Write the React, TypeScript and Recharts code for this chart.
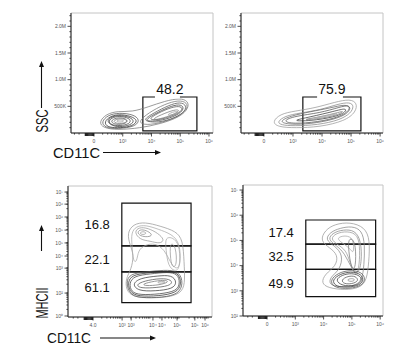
import { ComposedChart, Line, XAxis, YAxis, ReferenceArea, ReferenceLine } from 'recharts'

type Pt = [number, number]
type Gate = { x1: number; x2: number; y1: number; y2: number; label: string; gap?: [number, number] }

// ---- axis ticks (CD11C in decade units on a biex scale, MHCII in log10 units) ----
const cdTicks = [0, 1, 2, 3, 4]
const cdLabels = ['0', '10³', '10⁴', '10⁵', '10⁶']
// the bottom-left export has doubled-up labels
const cdTicksBL = [0, 1.0, 1.31, 2.06, 2.37, 2.89, 3.5, 3.85]
const cdLabelsBL = ['4.0', '10³', '10³', '10⁴', '10⁴', '10⁵', '10⁵', '10⁶']
const sscTicks = [500, 1000, 1500, 2000]
const sscLabels = ['500K', '1.0M', '1.5M', '2.0M']
const sscMinor = [100, 200, 300, 400, 600, 700, 800, 900, 1100, 1200, 1300, 1400, 1600, 1700, 1800, 1900, 2100, 2200]
const mhcTicks = [2, 3, 4, 5, 6, 7]
const mhcLabels = ['10²', '10³', '10⁴', '10⁵', '10⁶', '10⁷']
const mhcTicksBL = [2.04, 2.95, 3.94, 4.42, 4.94, 5.45, 5.97, 6.48, 6.96]
const mhcLabelsBL = ['10⁰', '10²', '10³', '10⁴', '10⁵', '10⁵', '10⁶', '10⁶', '10⁷']

function logMinor(from: number, to: number, max: number) {
  const out: number[] = []
  for (let d = from; d < to; d++)
    for (let k = 2; k <= 9; k++) {
      const v = d + Math.log10(k)
      if (v < max) out.push(Math.round(v * 1000) / 1000)
    }
  return out
}
const zeroBlock = [-0.3, -0.26, -0.22, -0.18, -0.14, -0.1, -0.06, -0.02]
const cdMinor = [-0.68, -0.52, ...zeroBlock, ...logMinor(0, 4, 4.05)]
const mhcMinor = logMinor(2, 7, 7.15)

// ---- contours: x = CD11C decades, y = SSC (K) or log10 MHCII ----
const tlContours: Pt[][] = [
  [[0.17, 206], [0.42, 356], [0.83, 412], [1.32, 394], [1.88, 488], [2.47, 600], [3.0, 656], [3.27, 600], [3.3, 469], [3.0, 300], [2.3, 169], [1.6, 94], [0.83, 56], [0.31, 94]],
  [[0.25, 206], [0.48, 338], [0.88, 380], [1.36, 350], [1.6, 250], [1.45, 120], [0.82, 75], [0.38, 100]],
  [[0.35, 206], [0.56, 319], [0.94, 356], [1.39, 300], [1.53, 206], [1.25, 112], [0.8, 94], [0.45, 112]],
  [[0.42, 215], [0.6, 310], [0.95, 338], [1.34, 281], [1.4, 188], [1.1, 120], [0.7, 112]],
  [[0.49, 225], [0.66, 300], [0.97, 319], [1.29, 262], [1.25, 169], [0.9, 131], [0.59, 150]],
  [[0.56, 225], [0.78, 290], [1.08, 281], [1.2, 215], [1.0, 160], [0.7, 160]],
  [[0.63, 225], [0.9, 281], [1.18, 244], [1.11, 188], [0.8, 169]],
  [[0.73, 225], [0.94, 253], [1.08, 225], [0.9, 197]],
  [[1.55, 220], [1.9, 380], [2.45, 540], [2.95, 620], [3.25, 570], [3.25, 440], [2.9, 290], [2.2, 170], [1.7, 150]],
  [[1.67, 225], [1.95, 337], [2.47, 488], [2.92, 581], [3.2, 544], [3.2, 412], [2.82, 281], [2.23, 188]],
  [[1.75, 235], [2.1, 355], [2.6, 490], [2.98, 545], [3.15, 480], [3.0, 360], [2.5, 250], [2.0, 215]],
  [[1.84, 244], [2.23, 375], [2.71, 488], [3.03, 506], [3.1, 431], [2.82, 337], [2.3, 244]],
  [[2.02, 262], [2.47, 375], [2.89, 450], [3.0, 412], [2.64, 319], [2.16, 244]],
  [[2.5, 337], [2.82, 412], [2.96, 394], [2.71, 328]],
]
const tlShades = ['#7a7a7a', '#555', '#333', '#3a3a3a', '#444', '#555', '#777', '#999', '#777', '#555', '#444', '#555', '#777', '#999']

const trContours: Pt[][] = [
  [[0.28, 206], [0.55, 356], [1.07, 412], [1.76, 469], [2.45, 581], [2.97, 638], [3.21, 563], [3.17, 394], [2.79, 225], [1.93, 113], [1.07, 94], [0.48, 113]],
  [[0.45, 206], [0.72, 319], [1.24, 375], [1.93, 431], [2.55, 544], [2.97, 581], [3.1, 506], [3.0, 375], [2.62, 244], [1.86, 150], [1.0, 131], [0.59, 150]],
  [[0.52, 215], [0.9, 319], [1.6, 400], [2.3, 470], [2.8, 540], [3.03, 480], [2.82, 330], [2.2, 225], [1.4, 160], [0.8, 165]],
  [[0.62, 225], [1.07, 319], [1.93, 375], [2.62, 488], [2.93, 525], [2.97, 431], [2.62, 300], [1.86, 206], [1.0, 169]],
  [[0.9, 225], [1.59, 300], [2.45, 412], [2.83, 469], [2.83, 394], [2.45, 300], [1.59, 225]],
  [[1.24, 244], [1.93, 300], [2.62, 394], [2.76, 412], [2.55, 337], [1.86, 262]],
  [[1.6, 270], [2.2, 330], [2.6, 380], [2.4, 340], [1.9, 285]],
]
const trShades = ['#999', '#888', '#666', '#555', '#3a3a3a', '#777', '#aaa']

const blContours: Pt[][] = [
  [[1.17, 5.33], [1.38, 5.69], [1.79, 5.77], [2.3, 5.61], [2.85, 5.41], [3.09, 5.06], [3.13, 4.18], [3.16, 3.47], [3.09, 2.99], [2.65, 2.79], [1.96, 2.75], [1.38, 2.79], [1.13, 3.07], [1.13, 3.55], [1.31, 3.87], [1.41, 4.46], [1.27, 4.86]],
  [[1.31, 5.33], [1.48, 5.61], [1.82, 5.65], [2.23, 5.49], [2.71, 5.29], [2.99, 4.94], [3.02, 4.06], [2.85, 3.87], [2.65, 4.18], [2.47, 4.66], [2.13, 4.94], [1.79, 4.86], [1.55, 4.66], [1.51, 4.18], [1.38, 4.18], [1.34, 4.86]],
  [[1.41, 5.37], [1.58, 5.57], [1.89, 5.53], [2.23, 5.33], [2.47, 5.06], [2.3, 4.9], [1.96, 5.02], [1.62, 5.06]],
  [[1.51, 5.37], [1.65, 5.49], [1.89, 5.41], [2.06, 5.25], [1.89, 5.17], [1.62, 5.21]],
  [[1.58, 5.33], [1.72, 5.41], [1.86, 5.33], [1.72, 5.25]],
  [[2.47, 5.21], [2.82, 5.13], [2.99, 4.74], [2.99, 3.94], [2.82, 3.79], [2.58, 4.02], [2.51, 4.66]],
  [[2.65, 4.98], [2.85, 4.82], [2.89, 4.02], [2.71, 3.94], [2.65, 4.46]],
  [[1.13, 3.39], [1.27, 3.71], [1.79, 3.79], [2.47, 3.87], [2.92, 3.83], [3.09, 3.47], [3.02, 2.99], [2.58, 2.79], [1.79, 2.75], [1.27, 2.83]],
  [[1.18, 3.37], [1.34, 3.67], [1.87, 3.75], [2.52, 3.83], [2.92, 3.77], [3.04, 3.41], [2.95, 3.01], [2.44, 2.85], [1.7, 2.81], [1.29, 2.91]],
  [[1.24, 3.35], [1.41, 3.63], [1.96, 3.71], [2.58, 3.79], [2.92, 3.71], [2.99, 3.35], [2.89, 3.03], [2.3, 2.91], [1.62, 2.87], [1.31, 2.99]],
  [[1.34, 3.31], [1.62, 3.55], [2.23, 3.63], [2.71, 3.67], [2.89, 3.39], [2.75, 3.11], [2.13, 3.03], [1.55, 3.03]],
  [[1.48, 3.31], [1.89, 3.47], [2.47, 3.55], [2.75, 3.43], [2.65, 3.23], [2.03, 3.15], [1.58, 3.15]],
  [[1.68, 3.31], [2.13, 3.43], [2.51, 3.47], [2.61, 3.39], [2.3, 3.27], [1.79, 3.23]],
  [[2.17, 3.39], [2.44, 3.43], [2.51, 3.37], [2.3, 3.33]],
]
const blShades = ['#999', '#aaa', '#999', '#888', '#999', '#aaa', '#999', '#555', '#333', '#444', '#3a3a3a', '#555', '#777', '#999']

const brContours: Pt[][] = [
  [[1.87, 4.98], [2.05, 5.41], [2.4, 5.65], [2.93, 5.73], [3.46, 5.53], [3.64, 5.02], [3.6, 4.14], [3.53, 3.43], [3.29, 3.11], [2.76, 3.03], [2.16, 3.11], [1.91, 3.31], [2.05, 3.67], [2.44, 3.98], [2.51, 4.42], [2.23, 4.7]],
  [[2.05, 5.02], [2.23, 5.33], [2.58, 5.49], [3.0, 5.57], [3.36, 5.41], [3.46, 4.82], [3.43, 4.02], [3.36, 3.39], [3.07, 3.19], [2.58, 3.15], [2.19, 3.23], [2.23, 3.55], [2.58, 3.83], [2.69, 4.42], [2.4, 4.78]],
  [[2.14, 5.04], [2.33, 5.31], [2.7, 5.43], [3.1, 5.41], [3.33, 5.0], [3.35, 4.1], [3.2, 3.6], [2.98, 3.9], [2.74, 4.5], [2.45, 4.8]],
  [[2.23, 5.06], [2.44, 5.29], [2.83, 5.37], [3.22, 5.25], [3.29, 4.62], [3.25, 3.83], [3.11, 3.59], [2.93, 4.14], [2.79, 4.62], [2.51, 4.82]],
  [[2.44, 5.1], [2.76, 5.21], [3.07, 5.1], [3.07, 4.42], [2.93, 4.7], [2.65, 4.9]],
  [[2.86, 5.02], [3.0, 5.1], [3.14, 4.82], [3.14, 3.9], [3.0, 3.83], [2.9, 4.42]],
  [[2.23, 3.43], [2.51, 3.71], [2.93, 3.83], [3.36, 3.75], [3.5, 3.43], [3.29, 3.15], [2.76, 3.07], [2.33, 3.15]],
  [[2.3, 3.43], [2.58, 3.67], [2.96, 3.77], [3.34, 3.67], [3.43, 3.39], [3.2, 3.17], [2.7, 3.13], [2.4, 3.2]],
  [[2.4, 3.43], [2.65, 3.63], [3.0, 3.71], [3.32, 3.59], [3.36, 3.35], [3.11, 3.19], [2.65, 3.19]],
  [[2.61, 3.43], [2.86, 3.59], [3.14, 3.59], [3.25, 3.39], [3.0, 3.27], [2.72, 3.27]],
  [[2.79, 3.43], [3.0, 3.51], [3.14, 3.43], [2.97, 3.35]],
]
const brShades = ['#999', '#888', '#888', '#999', '#aaa', '#777', '#555', '#333', '#3a3a3a', '#555', '#888']

// ---- gates ----
const tlGates: Gate[] = [{ x1: 1.7, x2: 3.58, y1: 38, y2: 675, label: '48.2', gap: [2.12, 2.99] }]
const trGates: Gate[] = [{ x1: 1.34, x2: 3.34, y1: 38, y2: 675, label: '75.9', gap: [1.83, 2.72] }]
const blGates: Gate[] = [
  { x1: 0.99, x2: 3.37, y1: 4.82, y2: 6.52, label: '16.8' },
  { x1: 0.99, x2: 3.37, y1: 3.79, y2: 4.82, label: '22.1' },
  { x1: 0.99, x2: 3.37, y1: 2.57, y2: 3.79, label: '61.1' },
]
const brGates: Gate[] = [
  { x1: 1.37, x2: 3.84, y1: 4.85, y2: 5.81, label: '17.4' },
  { x1: 1.37, x2: 3.84, y1: 3.85, y2: 4.85, label: '32.5' },
  { x1: 1.37, x2: 3.84, y1: 2.77, y2: 3.85, label: '49.9' },
]

function BottomTick({ x, y, payload, majors, labels }: any) {
  const i = majors.indexOf(payload.value)
  const block = i < 0 && payload.value < 0 && payload.value > -0.35
  const len = i >= 0 ? 3.5 : block ? 3 : 1.6
  return (
    <g>
      <line x1={x} y1={y} x2={x} y2={y + len} stroke="#222" strokeWidth={block ? 1.3 : 0.8} />
      {i >= 0 && (
        <text x={x} y={y + 10} textAnchor="middle" fontSize={5} fill="#555">{labels[i]}</text>
      )}
    </g>
  )
}

function LeftTick({ x, y, payload, majors, labels }: any) {
  const i = majors.indexOf(payload.value)
  const len = i >= 0 ? 3.5 : 1.6
  return (
    <g>
      <line x1={x - len} y1={y} x2={x} y2={y} stroke="#222" strokeWidth={0.8} />
      {i >= 0 && (
        <text x={x - 5} y={y} dy="0.35em" textAnchor="end" fontSize={5} fill="#555">{labels[i]}</text>
      )}
    </g>
  )
}

interface PanelProps {
  left: number; top: number; width: number; height: number; mTop: number; yWidth: number
  xDomain: [number, number]; yDomain: [number, number]
  xMajor: number[]; xLabels: string[]
  yMajor: number[]; yLabels: string[]; yMinor: number[]
  contours: Pt[][]; shades: string[]; gates: Gate[]; side: 'top' | 'left'
}

function Panel(p: PanelProps) {
  return (
    <div style={{ position: 'absolute', left: p.left, top: p.top }}>
      <ComposedChart width={p.width} height={p.height} margin={{ top: p.mTop, right: 4, bottom: 2, left: 0 }}>
        <XAxis
          type="number" dataKey="x" domain={p.xDomain} allowDataOverflow
          ticks={[...p.xMajor, ...cdMinor]} interval={0} tickSize={0} tickMargin={0} height={14}
          axisLine={{ stroke: '#222' }} tickLine={false}
          tick={(t: any) => <BottomTick {...t} majors={p.xMajor} labels={p.xLabels} />}
        />
        <YAxis
          type="number" dataKey="y" domain={p.yDomain} allowDataOverflow
          ticks={[...p.yMajor, ...p.yMinor]} interval={0} tickSize={0} tickMargin={0} width={p.yWidth}
          axisLine={{ stroke: '#222' }} tickLine={false}
          tick={(t: any) => <LeftTick {...t} majors={p.yMajor} labels={p.yLabels} />}
        />
        <ReferenceArea
          x1={p.xDomain[0]} x2={p.xDomain[1]} y1={p.yDomain[0]} y2={p.yDomain[1]}
          fill="none" stroke="#c4c4c4" strokeWidth={1} ifOverflow="visible"
        />
        {p.contours.map((c, i) => (
          <Line
            key={i} data={c.map(([x, y]) => ({ x, y }))} dataKey="y" type="basisClosed"
            stroke={p.shades[i]} strokeWidth={0.75} dot={false} activeDot={false}
            isAnimationActive={false}
          />
        ))}
        {p.gates.map((g, i) => (
          <ReferenceArea
            key={'g' + i} x1={g.x1} x2={g.x2} y1={g.y1} y2={g.y2}
            fill="none" stroke="#111" strokeWidth={1.2} ifOverflow="visible"
            label={p.side === 'top'
              ? { value: g.label, position: 'top', offset: 3, fontSize: 14, fill: '#111' }
              : { value: g.label, position: 'left', offset: 12, fontSize: 13, fill: '#111' }}
          />
        ))}
        {p.gates.filter(g => g.gap).map((g, i) => (
          <ReferenceLine
            key={'w' + i} segment={[{ x: g.gap![0], y: g.y2 }, { x: g.gap![1], y: g.y2 }]}
            stroke="#fff" strokeWidth={3} ifOverflow="visible"
          />
        ))}
      </ComposedChart>
    </div>
  )
}

function Arrow({ x1, y1, x2, y2 }: { x1: number; y1: number; x2: number; y2: number }) {
  const vertical = x1 === x2
  const head = vertical
    ? `${x2},${y2} ${x2 - 2.5},${y2 + 6} ${x2 + 2.5},${y2 + 6}`
    : `${x2},${y2} ${x2 - 6},${y2 - 2.5} ${x2 - 6},${y2 + 2.5}`
  return (
    <g>
      <line x1={x1} y1={y1} x2={vertical ? x2 : x2 - 5} y2={vertical ? y2 + 5 : y2} stroke="#111" strokeWidth={1.1} />
      <polygon points={head} fill="#111" />
    </g>
  )
}

export default function App() {
  return (
    <div style={{ position: 'absolute', left: 0, top: 0, width: 414, height: 355, background: '#fff', fontFamily: '"Liberation Sans", Arial, sans-serif', overflow: 'hidden' }}>
      <Panel left={30} top={0} width={187} height={149} mTop={13} yWidth={41}
        xDomain={[-0.8, 4.14]} yDomain={[0, 2250]} xMajor={cdTicks} xLabels={cdLabels}
        yMajor={sscTicks} yLabels={sscLabels} yMinor={sscMinor}
        contours={tlContours} shades={tlShades} gates={tlGates} side="top" />
      <Panel left={215} top={0} width={172} height={149} mTop={13} yWidth={26}
        xDomain={[-0.79, 4.1]} yDomain={[0, 2250]} xMajor={cdTicks} xLabels={cdLabels}
        yMajor={sscTicks} yLabels={sscLabels} yMinor={sscMinor}
        contours={trContours} shades={trShades} gates={trGates} side="top" />
      <Panel left={30} top={170} width={186} height={163} mTop={16} yWidth={38}
        xDomain={[-0.86, 4.09]} yDomain={[2, 7.2]} xMajor={cdTicksBL} xLabels={cdLabelsBL}
        yMajor={mhcTicksBL} yLabels={mhcLabelsBL} yMinor={mhcMinor}
        contours={blContours} shades={blShades} gates={blGates} side="left" />
      <Panel left={215} top={170} width={172} height={162} mTop={15} yWidth={28}
        xDomain={[-0.85, 4.1]} yDomain={[2, 7.2]} xMajor={cdTicks} xLabels={cdLabels}
        yMajor={mhcTicks} yLabels={mhcLabels} yMinor={mhcMinor}
        contours={brContours} shades={brShades} gates={brGates} side="left" />
      <svg width={414} height={355} style={{ position: 'absolute', left: 0, top: 0, pointerEvents: 'none' }}>
        <text transform="translate(47.5,121) rotate(-90)" textAnchor="middle" fontSize={17} fill="#111" textLength={23} lengthAdjust="spacingAndGlyphs">SSC</text>
        <Arrow x1={41.5} y1={108} x2={41.5} y2={61} />
        <text x={53} y={158} fontSize={15} fill="#111" textLength={47} lengthAdjust="spacingAndGlyphs">CD11C</text>
        <Arrow x1={103} y1={152.5} x2={161} y2={152.5} />
        <text transform="translate(47.5,303) rotate(-90)" textAnchor="middle" fontSize={17} fill="#111" textLength={31} lengthAdjust="spacingAndGlyphs">MHCII</text>
        <Arrow x1={41.5} y1={251} x2={41.5} y2={225} />
        <text x={47} y={343} fontSize={15} fill="#111" textLength={44} lengthAdjust="spacingAndGlyphs">CD11C</text>
        <Arrow x1={100} y1={338} x2={156} y2={338} />
      </svg>
    </div>
  )
}
